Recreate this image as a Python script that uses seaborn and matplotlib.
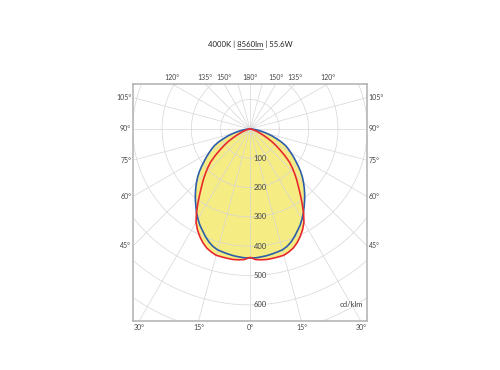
import numpy as np
import matplotlib
matplotlib.use("Agg")
import matplotlib.pyplot as plt
import seaborn as sns

# luminous intensity, cd/klm, gamma 0..90 deg (symmetric about nadir)
gamma = [0, 2.5, 5, 7.5, 10, 12.5, 15, 17.5, 20, 22.5, 25, 27.5, 30, 32.5, 35, 37.5,
         40, 42.5, 45, 47.5, 50, 52.5, 55, 57.5, 60, 62.5, 65, 67.5, 70, 72.5, 75,
         77.5, 80, 82.5, 85, 87.5, 90]
c0_180 = [438, 446, 448, 449, 448, 447, 446, 440, 432, 420, 405, 388, 368, 340, 310, 282,
          257, 236, 215, 195, 175, 150, 125, 104, 85, 65, 48, 35, 25, 17, 10,
          6, 3, 1, 0, 0, 0]
c90_270 = [440, 440, 438, 436, 433, 430, 427, 420, 410, 397, 383, 370, 355, 339, 322, 306,
           290, 274, 258, 242, 225, 207, 190, 175, 160, 147, 133, 115, 95, 78, 60,
           45, 30, 19, 10, 4, 0]
rings = [100, 200, 300, 400, 500, 600, 700, 800, 900, 1000]
ring_labels = ["100", "200", "300", "400", "500", "600"]
angle_labels = [0, 15, 30, 45, 60, 75, 90, 105, 120, 135, 150, 180]
title = "4000K | 8560lm | 55.6W"
unit = "cd/klm"

FILL = "#f6ec84"
RED = "#e8292b"
BLUE = "#2d5ea9"
GRID = "#d6d6d6"
TXT = "#444444"

sns.set_style("white")
plt.rcParams["font.family"] = ["Lato", "DejaVu Sans"]

fig = plt.figure(figsize=(5, 3.7), dpi=100)
ax = fig.add_axes([0.266, 0.1324, 0.468, 0.6405])
xmin, xmax, ymin, ymax = -399, 399, -655, 153
ax.set_xlim(xmin, xmax)
ax.set_ylim(ymin, ymax)
ax.set_xticks([])
ax.set_yticks([])
for s in ax.spines.values():
    s.set_color("#b0b0b0")
    s.set_linewidth(1.1)


def to_xy(g, r):
    g = np.radians(np.asarray(g, dtype=float))
    r = np.asarray(r, dtype=float)
    return r * np.sin(g), -r * np.cos(g)


def full(vals):
    g = [-a for a in gamma[::-1]] + gamma[1:]
    v = vals[::-1] + vals[1:]
    return g, v


# grid
t = np.linspace(0, 2 * np.pi, 361)
for r in rings:
    ax.plot(r * np.cos(t), r * np.sin(t), color=GRID, lw=0.5, zorder=2)
for a in range(0, 360, 15):
    x, y = to_xy([a, a], [0, 2000])
    ax.plot(x, y, color=GRID, lw=0.5, zorder=2)

# fill (union of both planes)
for vals in (c0_180, c90_270):
    g, v = full(vals)
    x, y = to_xy(g, v)
    ax.fill(x, y, color=FILL, lw=0, zorder=1)

# curves
for vals, col in ((c90_270, BLUE), (c0_180, RED)):
    g, v = full(vals)
    x, y = to_xy(g, v)
    sns.lineplot(x=x, y=y, sort=False, estimator=None, color=col, lw=1.2, ax=ax, zorder=4)

# ring labels
for lab in ring_labels:
    ax.text(12, -float(lab), lab, fontsize=5.5, color=TXT, ha="left", va="center", zorder=5)
ax.text(385, -600, unit, fontsize=5.5, color=TXT, ha="right", va="center", zorder=5)

# angle labels on the frame
for a in angle_labels:
    for side in (1, -1):
        if a in (0, 180) and side == -1:
            continue
        g = np.radians(a)
        dx, dy = side * np.sin(g), -np.cos(g)
        ts = []
        if abs(dx) > 1e-9:
            ts.append((xmax if dx > 0 else xmin) / dx)
        if dy < -1e-9:
            ts.append(ymin / dy)
        if dy > 1e-9:
            ts.append(ymax / dy)
        tt = min(ts)
        px, py = tt * dx, tt * dy
        lab = f"{a}°"
        if abs(py - ymin) < 1:
            ax.text(px, py - 10, lab, fontsize=5, color=TXT, ha="center", va="top", clip_on=False)
        elif abs(py - ymax) < 1:
            ax.text(px, py + 10, lab, fontsize=5, color=TXT, ha="center", va="bottom", clip_on=False)
        elif px > 0:
            ax.text(px + 6, py, lab, fontsize=5, color=TXT, ha="left", va="center", clip_on=False)
        else:
            ax.text(px - 6, py, lab, fontsize=5, color=TXT, ha="right", va="center", clip_on=False)

# title with underlined lumen value
TFS = 5.6
tt = fig.text(0.5, 1 - 44.5 / 370, title, fontsize=TFS, color="#222222", ha="center", va="center")
fig.canvas.draw()
rend = fig.canvas.get_renderer()
bb = tt.get_window_extent(rend)


def width(s):
    m = fig.text(0, 0, s, fontsize=TFS)
    w = m.get_window_extent(rend).width
    m.remove()
    return w


x1 = bb.x0 + width("4000K | 8560lm")
x0 = x1 - width("8560lm")
yl = bb.y0 - 0.3
fig.add_artist(plt.Line2D([x0 / 500, x1 / 500], [yl / 370, yl / 370], color="#222222", lw=0.4))

fig.savefig("out.png", dpi=100)
